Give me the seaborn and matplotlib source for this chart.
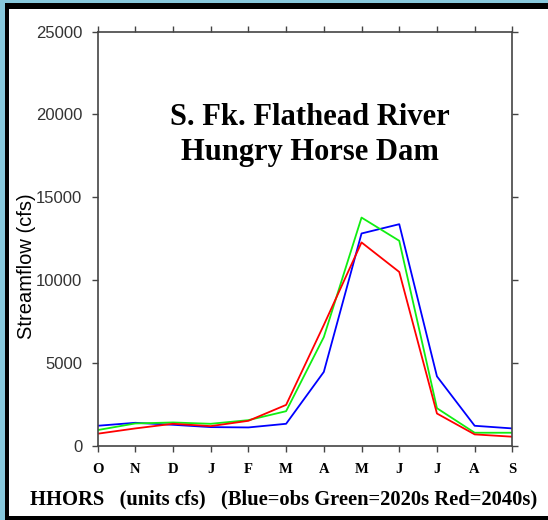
import matplotlib
matplotlib.use("Agg")
import matplotlib.pyplot as plt
import seaborn as sns
import pandas as pd
from matplotlib.patches import Rectangle

# monthly streamflow (cfs), water year Oct -> Sep
months = ["O", "N", "D", "J", "F", "M", "A", "M", "J", "J", "A", "S"]
obs = [1220, 1400, 1280, 1140, 1120, 1340, 4470, 12820, 13380, 4200, 1220, 1060]
flow_2020s = [960, 1360, 1420, 1340, 1560, 2100, 6570, 13780, 12380, 2280, 800, 800]
flow_2040s = [740, 1060, 1340, 1200, 1520, 2480, 7300, 12280, 10500, 1960, 700, 560]
y_ticks = [0, 5000, 10000, 15000, 20000, 25000]

series_colors = {"obs": "#0000ff", "2020s": "#11ee11", "2040s": "#ff0000"}

rows = []
for name, vals in [("obs", obs), ("2020s", flow_2020s), ("2040s", flow_2040s)]:
    for i, v in enumerate(vals):
        rows.append({"idx": i, "flow": v, "series": name})
df = pd.DataFrame(rows)

sns.set_style("ticks")
serif = ["Liberation Serif", "DejaVu Serif"]
sans = ["Liberation Sans", "DejaVu Sans"]

fig = plt.figure(figsize=(5.48, 5.20), dpi=100)
fig.patch.set_facecolor("#87c8dc")

# black frame + white panel, on a background axes
bg = fig.add_axes([0, 0, 1, 1], zorder=-1)
bg.set_axis_off()
bg.set_xlim(0, 548)
bg.set_ylim(520, 0)
bg.add_patch(Rectangle((5, 3), 560, 530, facecolor="black", edgecolor="none"))
bg.add_patch(Rectangle((9, 9), 560, 507, facecolor="white", edgecolor="none"))

ax = fig.add_axes([0.178, 0.1423, 0.757, 0.797])
ax.set_facecolor("none")

sns.lineplot(data=df, x="idx", y="flow", hue="series", palette=series_colors,
             hue_order=["obs", "2020s", "2040s"], legend=False, linewidth=1.3, ax=ax)

ax.set_xlim(0, 11)
ax.set_ylim(0, 25000)
ax.set_xticks(range(len(months)))
ax.set_xticklabels(months, fontfamily=serif, fontweight="bold", fontsize=10.5, color="black")
ax.set_yticks(y_ticks)
ax.set_yticklabels([str(t) for t in y_ticks], fontfamily=sans, fontsize=12, color="#333333")
ax.tick_params(direction="out", length=4, width=1, color="#444444",
               top=True, right=True, labeltop=False, labelright=False)
ax.tick_params(axis="y", pad=7)
ax.tick_params(axis="x", pad=8)
for s in ax.spines.values():
    s.set_visible(True)
    s.set_color("#444444")
    s.set_linewidth(1.2)

ax.set_xlabel("")
ax.set_ylabel("Streamflow (cfs)", fontfamily=sans, fontsize=14.5, color="black")
ax.yaxis.set_label_coords(-0.148, 0.434)

ax.text(0.512, 0.75, "S. Fk. Flathead River\nHungry Horse Dam", transform=ax.transAxes,
        ha="center", va="center", fontfamily=serif, fontweight="bold", fontsize=22,
        linespacing=1.25, color="black")

fig.text(30 / 548, 1 - 499 / 520,
         "HHORS   (units cfs)   (Blue=obs Green=2020s Red=2040s)",
         ha="left", va="center", fontfamily=serif, fontweight="bold", fontsize=14.8,
         color="black")

fig.savefig("out.png", dpi=100, facecolor=fig.get_facecolor())
plt.close(fig)
